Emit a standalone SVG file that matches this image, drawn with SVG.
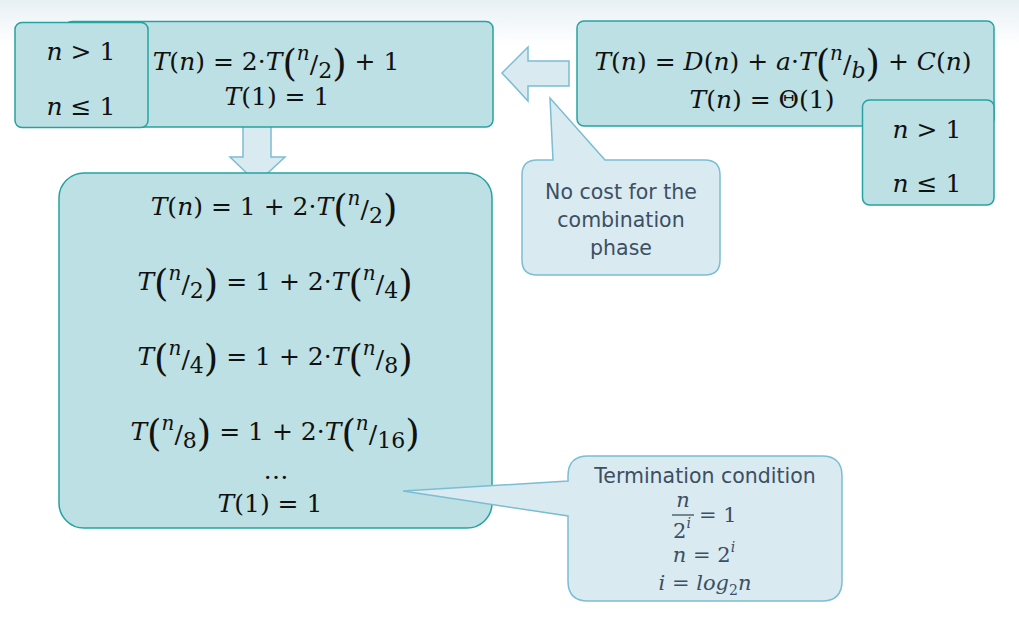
<svg xmlns="http://www.w3.org/2000/svg" width="1019" height="621" viewBox="0 0 1019 621">
<defs>
<linearGradient id="bg" x1="0" y1="0" x2="0" y2="1">
<stop offset="0" stop-color="#e8f0f4"/>
<stop offset="1" stop-color="#ffffff"/>
</linearGradient>
<style>
.box{fill:#bce0e3;stroke:#26a2a2;stroke-width:1.5}
.call{fill:#d9eaf1;stroke:#7bbdd3;stroke-width:1.5}
.m{font-family:"DejaVu Serif","Liberation Serif",serif;font-size:25px;fill:#111}
.cm{font-family:"DejaVu Serif","Liberation Serif",serif;font-size:21px;fill:#3d4f62}
.i{font-style:italic}
.bp{font-size:37px}
.sn{font-size:20px;font-style:italic}
.sd{font-size:22px}
.t{font-family:"DejaVu Sans","Verdana",sans-serif;font-size:20.5px;fill:#3d4f62}
.sup{font-size:14px}
</style>
</defs>
<rect x="0" y="0" width="1019" height="45" fill="url(#bg)"/>

<g id="connectors">
<path class="call" d="M243,116 L271,116 L271,157 L285,157 L257,183 L230,157 L243,157 Z"/>
<path class="call" d="M502,73 L528,47 L528,61 L569,61 L569,86 L528,86 L528,101 Z"/>
</g>

<g id="boxA">
<rect class="box" x="65" y="21.5" width="428" height="105.5" rx="7"/>
<text class="m" x="276" y="70" text-anchor="middle"><tspan class="i">T</tspan>(<tspan class="i">n</tspan>) = 2·<tspan class="i">T</tspan><tspan class="bp" dy="6">(</tspan><tspan class="sn" dy="-16">n</tspan><tspan dy="13">/</tspan><tspan class="sd" dy="5">2</tspan><tspan class="bp" dy="-2">)</tspan><tspan dy="-6"> + 1</tspan></text>
<text class="m" x="277" y="105" text-anchor="middle"><tspan class="i">T</tspan>(1) = 1</text>
</g>

<g id="condA">
<rect class="box" x="15" y="22.5" width="133" height="105" rx="7"/>
<text class="m" x="81" y="60" text-anchor="middle"><tspan class="i">n</tspan> &gt; 1</text>
<text class="m" x="81" y="115" text-anchor="middle"><tspan class="i">n</tspan> ≤ 1</text>
</g>

<g id="boxB">
<rect class="box" x="577" y="21" width="417" height="105" rx="7"/>
<text class="m" x="783" y="70" text-anchor="middle"><tspan class="i">T</tspan>(<tspan class="i">n</tspan>) = <tspan class="i">D</tspan>(<tspan class="i">n</tspan>) + <tspan class="i">a</tspan>·<tspan class="i">T</tspan><tspan class="bp" dy="6">(</tspan><tspan class="sn" dy="-16">n</tspan><tspan dy="13">/</tspan><tspan class="sd i" dy="5">b</tspan><tspan class="bp" dy="-2">)</tspan><tspan dy="-6"> + </tspan><tspan class="i">C</tspan>(<tspan class="i">n</tspan>)</text>
<text class="m" x="762" y="108" text-anchor="middle"><tspan class="i">T</tspan>(<tspan class="i">n</tspan>) = Θ(1)</text>
</g>

<g id="condB">
<rect class="box" x="862.5" y="100" width="131.5" height="105" rx="7"/>
<text class="m" x="927" y="138" text-anchor="middle"><tspan class="i">n</tspan> &gt; 1</text>
<text class="m" x="927" y="192" text-anchor="middle"><tspan class="i">n</tspan> ≤ 1</text>
</g>

<g id="boxC">
<rect class="box" x="59" y="173" width="433" height="355" rx="25"/>
<text class="m" x="274" y="215" text-anchor="middle"><tspan class="i">T</tspan>(<tspan class="i">n</tspan>) = 1 + 2·<tspan class="i">T</tspan><tspan class="bp" dy="6">(</tspan><tspan class="sn" dy="-16">n</tspan><tspan dy="13">/</tspan><tspan class="sd" dy="5">2</tspan><tspan class="bp" dy="-2">)</tspan></text>
<text class="m" x="275" y="290" text-anchor="middle"><tspan class="i">T</tspan><tspan class="bp" dy="6">(</tspan><tspan class="sn" dy="-16">n</tspan><tspan dy="13">/</tspan><tspan class="sd" dy="5">2</tspan><tspan class="bp" dy="-2">)</tspan><tspan dy="-6"> = 1 + 2·</tspan><tspan class="i">T</tspan><tspan class="bp" dy="6">(</tspan><tspan class="sn" dy="-16">n</tspan><tspan dy="13">/</tspan><tspan class="sd" dy="5">4</tspan><tspan class="bp" dy="-2">)</tspan></text>
<text class="m" x="275" y="365" text-anchor="middle"><tspan class="i">T</tspan><tspan class="bp" dy="6">(</tspan><tspan class="sn" dy="-16">n</tspan><tspan dy="13">/</tspan><tspan class="sd" dy="5">4</tspan><tspan class="bp" dy="-2">)</tspan><tspan dy="-6"> = 1 + 2·</tspan><tspan class="i">T</tspan><tspan class="bp" dy="6">(</tspan><tspan class="sn" dy="-16">n</tspan><tspan dy="13">/</tspan><tspan class="sd" dy="5">8</tspan><tspan class="bp" dy="-2">)</tspan></text>
<text class="m" x="275" y="440" text-anchor="middle"><tspan class="i">T</tspan><tspan class="bp" dy="6">(</tspan><tspan class="sn" dy="-16">n</tspan><tspan dy="13">/</tspan><tspan class="sd" dy="5">8</tspan><tspan class="bp" dy="-2">)</tspan><tspan dy="-6"> = 1 + 2·</tspan><tspan class="i">T</tspan><tspan class="bp" dy="6">(</tspan><tspan class="sn" dy="-16">n</tspan><tspan dy="13">/</tspan><tspan class="sd" dy="5">16</tspan><tspan class="bp" dy="-2">)</tspan></text>
<text class="m" x="276" y="479" text-anchor="middle">…</text>
<text class="m" x="270" y="512" text-anchor="middle"><tspan class="i">T</tspan>(1) = 1</text>
</g>

<g id="calloutCost">
<path class="call" d="M537,160 L553,160 L550,98 L605,160 L705,160 Q720,160 720,175 L720,260 Q720,275 705,275 L537,275 Q522,275 522,260 L522,175 Q522,160 537,160 Z"/>
<text class="t" x="621" y="199" text-anchor="middle">No cost for the</text>
<text class="t" x="621" y="227" text-anchor="middle">combination</text>
<text class="t" x="621" y="255" text-anchor="middle">phase</text>
</g>

<g id="calloutTermination">
<path class="call" d="M588,456 L822,456 Q842,456 842,476 L842,581 Q842,601 822,601 L588,601 Q568,601 568,581 L568,516 L403,491 L568,481 L568,476 Q568,456 588,456 Z"/>
<text class="t" x="705" y="483" text-anchor="middle">Termination condition</text>
<text class="cm i" x="683" y="507" text-anchor="middle">n</text>
<line x1="672" y1="515" x2="694" y2="515" stroke="#3d4f62" stroke-width="1.3"/>
<text class="cm" x="673" y="538">2<tspan class="i sup" dy="-10">i</tspan></text>
<text class="cm" x="699" y="522">= 1</text>
<text class="cm" x="704" y="562" text-anchor="middle"><tspan class="i">n</tspan> = 2<tspan class="i sup" dy="-10">i</tspan></text>
<text class="cm" x="705" y="590" text-anchor="middle"><tspan class="i">i</tspan> = <tspan class="i">log</tspan><tspan class="sup" dy="5">2</tspan><tspan class="i" dy="-5">n</tspan></text>
</g>
</svg>
